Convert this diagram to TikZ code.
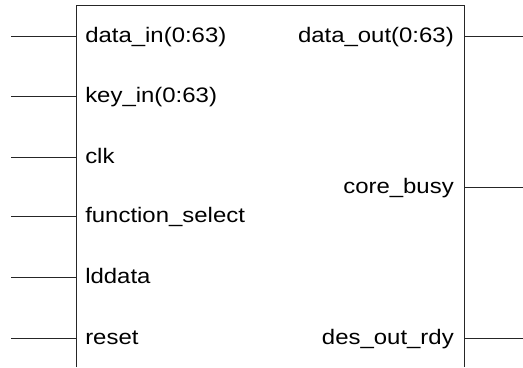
\documentclass[tikz,border=0pt]{standalone}
\usepackage{fontspec}
\setmainfont[FakeStretch=1.14]{Liberation Sans}
\usetikzlibrary{positioning}
\tikzset{
  wire/.style={
    line width=0.75pt,
    draw=black!85
  },
  portname/.style={
    inner sep=0pt,
    font=\fontsize{15.75}{18}\selectfont
  },
}

\begin{document}
\begin{tikzpicture}[x=0.75pt,y=-0.75pt]
  \useasboundingbox (0,0) rectangle (523,367);
  % block outline, runs on past the bottom edge
  \draw[wire] (76,367) -- (76,6) -- (464,6) -- (464,367);
  % inputs
  \foreach \y/\name [count=\i] in {37/data\_in(0:63),97/key\_in(0:63),157/clk,216/function\_select,277/lddata,338/reset}{
    \coordinate (in\i) at (76,\y);
    \coordinate (in\i end) at (11,\y);
    \node[portname,anchor=base west] (inname\i) at (85,\y+6) {\name};
    \draw[wire] (in\i end) -- (in\i);
  }
  % outputs
  \foreach \y/\name [count=\i] in {37/data\_out(0:63),187/core\_busy,338/des\_out\_rdy}{
    \coordinate (out\i) at (464,\y);
    \coordinate (out\i end) at (523,\y);
    \node[portname,anchor=base east] (outname\i) at (454,\y+6) {\name};
    \draw[wire] (out\i) -- (out\i end);
  }
\end{tikzpicture}
\end{document}
